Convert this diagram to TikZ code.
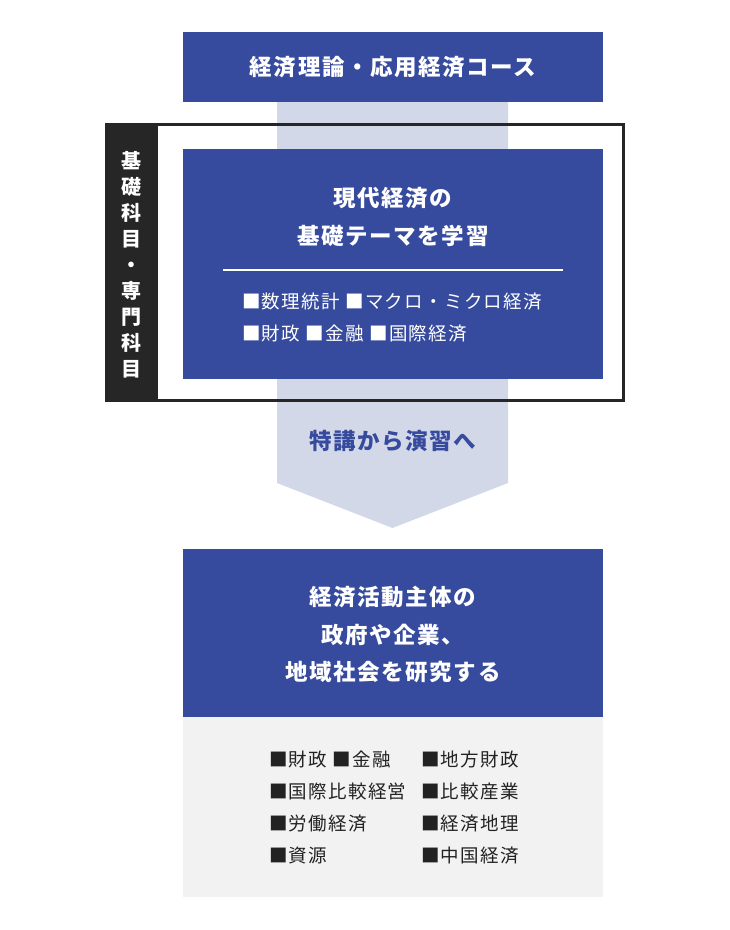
\documentclass[tikz,border=0pt]{standalone}
\usepackage{fontspec}
\setmainfont{Noto Sans CJK JP}[LetterSpace=7]
\usetikzlibrary{calc}
\definecolor{mainblue}{HTML}{374B9E}
\definecolor{bandcol}{HTML}{D3D8E8}
\definecolor{darkcol}{HTML}{262626}
\definecolor{graycol}{HTML}{F2F2F2}
\definecolor{itemcol}{HTML}{222222}
\tikzset{
  bluebox/.style={fill=mainblue, draw=none, minimum width=420pt, inner sep=0pt, text=white},
  graybox/.style={fill=graycol, draw=none, minimum width=420pt, inner sep=0pt},
  titletext/.style={inner sep=0pt, text=white, align=center, font=\bfseries\fontsize{22.5}{37.5}\selectfont},
  itemtext/.style={inner sep=0pt, align=left, anchor=west, font=\fontsize{18.5}{32.3}\selectfont},
  vtext/.style={inner sep=0pt, text=white, align=center, font=\bfseries\fontsize{20}{26}\selectfont},
}
\begin{document}
\begin{tikzpicture}[x=1pt,y=-1pt]
\useasboundingbox (0,0) rectangle (730,930);
% boxes
\node[bluebox, minimum height=70pt] (top) at (393,67) {};
\node[bluebox, minimum height=168pt] (res) at (393,633) {};
\node[graybox, minimum height=180pt, anchor=north] (list) at (res.south) {};
% band / arrow
\coordinate (tip) at (392.5,528);
\fill[bandcol] (277,102) -- (508,102) -- (508,483) -- (tip) -- (277,483) -- cycle;
% frame
\fill[darkcol] (105,123) rectangle (158,402);
\draw[darkcol, line width=3pt] (106.5,124.5) rectangle (623.5,400.5);
\node[vtext] (vlabel) at (131.5,264.5) {基\\礎\\科\\目\\・\\専\\門\\科\\目};
% inner blue box
\node[bluebox, minimum height=230pt] (basic) at (393,264) {};
% texts
\node[titletext] (toptitle) at (top.center) {経済理論・応用経済コース};
\node[titletext] (basictitle) at (393,217) {現代経済の\\基礎テーマを学習};
\coordinate (ruleL) at (223,270);
\coordinate (ruleR) at (563,270);
\draw[white, line width=1.6pt] (ruleL) -- (ruleR);
\node[itemtext, text=white, font=\fontsize{18.5}{32}\selectfont] (basicitems) at (242,318) {■数理統計 ■マクロ・ミクロ経済\\■財政 ■金融 ■国際経済};
\node[titletext, text=mainblue] (shift) at (392.5,441) {特講から演習へ};
\node[titletext] (restitle) at (393,634.5) {経済活動主体の\\政府や企業、\\地域社会を研究する};
\node[itemtext, text=itemcol] (colA) at (269,807.5) {■財政 ■金融\\■国際比較経営\\■労働経済\\■資源};
\node[itemtext, text=itemcol] (colB) at (421,807.5) {■地方財政\\■比較産業\\■経済地理\\■中国経済};
\end{tikzpicture}
\end{document}
